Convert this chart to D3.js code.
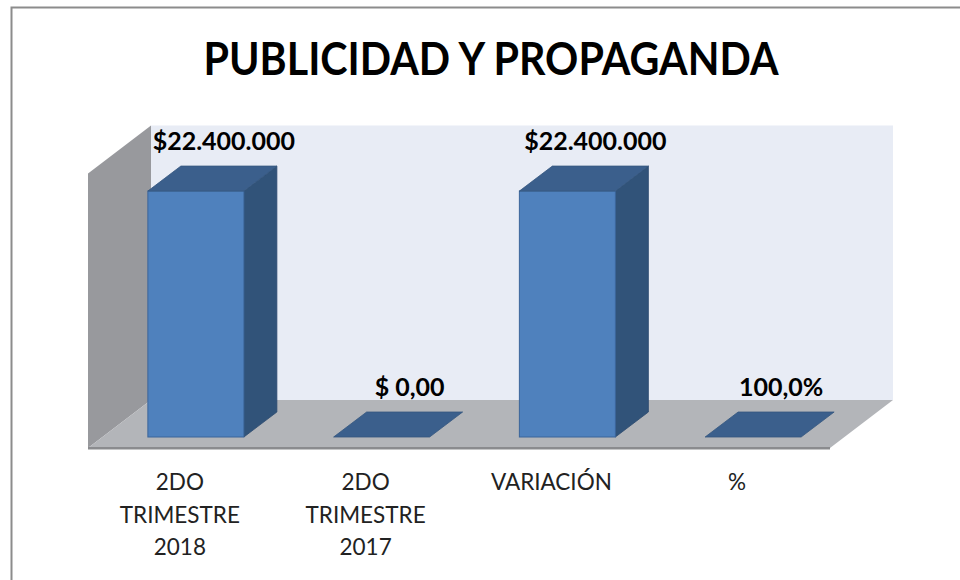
<!DOCTYPE html>
<html>
<head>
<meta charset="UTF-8">
<title>Publicidad y Propaganda</title>
<script src="https://cdn.jsdelivr.net/npm/d3@7"></script>
<style>
  body { margin: 0; background: #fff; }
  text { font-family: Lato, "Liberation Sans", Arial, sans-serif; }
</style>
</head>
<body>
<script>
// data
var categories = ["2DO TRIMESTRE 2018", "2DO TRIMESTRE 2017", "VARIACIÓN", "%"];
var categoryLines = [["2DO", "TRIMESTRE", "2018"], ["2DO", "TRIMESTRE", "2017"], ["VARIACIÓN"], ["%"]];
var values = [22400000, 0, 22400000, 1];
var valueLabels = ["$22.400.000", "$ 0,00", "$22.400.000", "100,0%"];
var title = "PUBLICIDAD Y PROPAGANDA";

var W = 960, H = 580;
var svg = d3.select("body").append("svg").attr("width", W).attr("height", H);

// outer frame
svg.append("rect").attr("x", 11.5).attr("y", 7.5).attr("width", 1000).attr("height", 1000)
    .attr("fill", "#fff").attr("stroke", "#8c8c8c").attr("stroke-width", 2);

var x = d3.scalePoint().domain(categories).range([103, 846]).padding(0.5);
var y = d3.scaleLinear().domain([0, 25000000]).range([437, 162.5]);

var barW = 96;
var bdx = 33, bdy = -25;     // bar depth
var wdx = 63, wdy = -48;     // wall/floor depth
var floorFront = 448, floorLeft = 88, floorRight = 830;

// back wall
var wl = floorLeft + wdx, wb = floorFront + wdy, wt = wb - (y(0) - y(25000000));
svg.append("rect").attr("x", wl).attr("y", wt).attr("width", floorRight + wdx - wl).attr("height", wb - wt)
    .attr("fill", "#e8ecf5");
// side wall
svg.append("polygon")
    .attr("points", [[floorLeft, floorFront], [floorLeft, wt - wdy], [wl, wt], [wl, wb]].join(" "))
    .attr("fill", "#98999d");
// floor
svg.append("polygon")
    .attr("points", [[floorLeft, floorFront], [wl, wb], [floorRight + wdx, wb], [floorRight, floorFront]].join(" "))
    .attr("fill", "#b3b5b9");
svg.append("rect").attr("x", floorLeft).attr("y", floorFront - 1).attr("width", floorRight - floorLeft).attr("height", 2.5)
    .attr("fill", "#8a8b8e");

// bars
var bars = svg.selectAll("g.bar").data(values).enter().append("g").attr("class", "bar");
bars.each(function (d, i) {
    var g = d3.select(this);
    var x0 = x(categories[i]) - barW / 2, x1 = x0 + barW;
    var yt = y(d), yb = y(0);
    if (yb - yt > 1) {
        g.append("polygon")
            .attr("points", [[x1, yb], [x1, yt], [x1 + bdx, yt + bdy], [x1 + bdx, yb + bdy]].join(" "))
            .attr("fill", "#315379").attr("stroke", "#2c4a6e").attr("stroke-width", 0.8);
        g.append("rect").attr("x", x0).attr("y", yt).attr("width", barW).attr("height", yb - yt)
            .attr("fill", "#4f81bd").attr("stroke", "#3b659a").attr("stroke-width", 1);
    }
    g.append("polygon")
        .attr("points", [[x0, yt], [x0 + bdx, yt + bdy], [x1 + bdx, yt + bdy], [x1, yt]].join(" "))
        .attr("fill", "#3b5f8c").attr("stroke", "#35577f").attr("stroke-width", 0.8);
});

// value labels
svg.selectAll("text.val").data(values).enter().append("text").attr("class", "val")
    .attr("x", function (d, i) { return x(categories[i]) + 28; })
    .attr("y", function (d) { return y(d) + bdy - 16; })
    .attr("text-anchor", "middle").attr("font-size", 25).attr("font-weight", "bold").attr("fill", "#000")
    .text(function (d, i) { return valueLabels[i]; });

// category labels
var cl = svg.selectAll("text.cat").data(categories).enter().append("text").attr("class", "cat")
    .attr("text-anchor", "middle").attr("font-size", 22.5).attr("fill", "#222");
cl.each(function (d, i) {
    var t = d3.select(this);
    categoryLines[i].forEach(function (line, j) {
        t.append("tspan").attr("x", x(d) - 16).attr("y", 490 + j * 32.5).text(line);
    });
});

// title
svg.append("text").attr("x", 491).attr("y", 75).attr("text-anchor", "middle")
    .attr("font-size", 46).attr("font-weight", "bold").attr("fill", "#000")
    .attr("textLength", 575).attr("lengthAdjust", "spacingAndGlyphs")
    .text(title);
</script>
</body>
</html>
